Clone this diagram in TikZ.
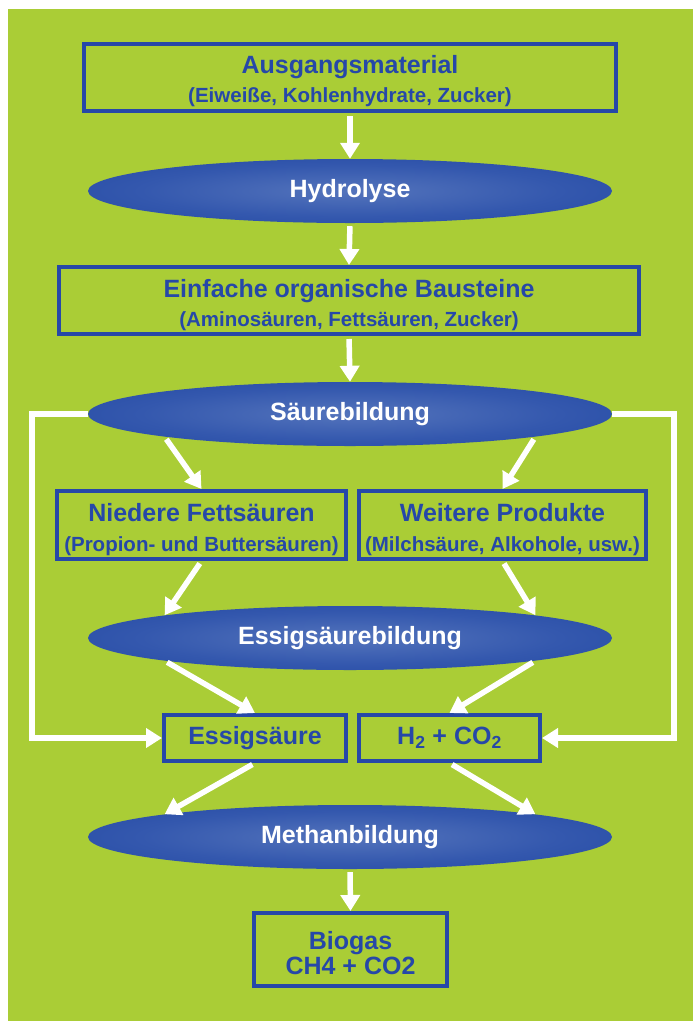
\documentclass[tikz,border=0pt]{standalone}
\usepackage{fontspec}
\setmainfont{Liberation Sans}
\usetikzlibrary{shapes.geometric,arrows.meta}
\definecolor{bggreen}{RGB}{170,205,54}
\definecolor{boxblue}{RGB}{38,72,168}
\definecolor{elllight}{RGB}{84,116,188}
\definecolor{ellmid}{RGB}{52,88,174}
\definecolor{elldark}{RGB}{28,66,158}
\pgfdeclareradialshading{ellshade}{\pgfpoint{0bp}{0bp}}{color(0bp)=(elllight); color(20bp)=(ellmid); color(44bp)=(elldark); color(50bp)=(elldark)}
\tikzset{
  mainfont/.style={font=\bfseries\fontsize{25}{28}\selectfont},
  subfont/.style={font=\bfseries\fontsize{20.5}{24}\selectfont},
  box/.style={draw=boxblue, line width=4pt, inner sep=0pt, text=boxblue, mainfont},
  boxlabel/.style={text=boxblue, mainfont, anchor=base, inner sep=0pt},
  boxsub/.style={text=boxblue, subfont, anchor=base, inner sep=0pt},
  proc/.style={ellipse, shading=ellshade, inner sep=0pt, minimum width=524pt, minimum height=64pt, text=white, mainfont},
  arr/.style={draw=white, line width=5.5pt, shorten <=3pt, -{Triangle[width=19pt,length=16pt]}},
  loopline/.style={draw=white, line width=5.5pt, -{Triangle[width=19pt,length=16pt]}}
}
\begin{document}
\begin{tikzpicture}[x=1pt,y=-1pt]
\useasboundingbox (0,0) rectangle (693,1021);
\fill[bggreen] (8,9) rectangle (693,1021);

% boxes
\node[box, minimum width=532pt, minimum height=67pt] (b1) at (350,77.5) {};
\node[boxlabel] (b1t) at ([yshift=4.5pt]b1.center) {Ausgangsmaterial};
\node[boxsub] (b1s) at ([yshift=-24.5pt]b1.center) {(Eiweiße, Kohlenhydrate, Zucker)};

\node[proc] (hyd) at (350,191) {Hydrolyse};

\node[box, minimum width=580pt, minimum height=67pt] (b2) at (349,300.5) {};
\node[boxlabel] (b2t) at ([yshift=3.5pt]b2.center) {Einfache organische Bausteine};
\node[boxsub] (b2s) at ([yshift=-25.5pt]b2.center) {(Aminosäuren, Fettsäuren, Zucker)};

\node[proc] (sae) at (350,414) {Säurebildung};

\node[box, minimum width=289pt, minimum height=68pt] (nf) at (201.5,525) {};
\node[boxlabel] (nft) at ([yshift=4pt]nf.center) {Niedere Fettsäuren};
\node[boxsub] (nfs) at ([yshift=-26pt]nf.center) {(Propion- und Buttersäuren)};

\node[box, minimum width=287pt, minimum height=68pt] (wp) at (502.5,525) {};
\node[boxlabel] (wpt) at ([yshift=4pt]wp.center) {Weitere Produkte};
\node[boxsub] (wps) at ([yshift=-26pt]wp.center) {(Milchsäure, Alkohole, usw.)};

\node[proc] (ess) at (350,638) {Essigsäurebildung};

\node[box, minimum width=182pt, minimum height=46pt] (es) at (255,738) {Essigsäure};
\node[box, minimum width=181pt, minimum height=46pt] (hc) at (449.5,738) {H\textsubscript{2} + CO\textsubscript{2}};

\node[proc] (met) at (350,837) {Methanbildung};

\node[box, minimum width=193pt, minimum height=73pt] (bg) at (350.5,949.5) {};
\node[boxlabel] (bgt) at ([yshift=0pt]bg.center) {Biogas};
\node[boxlabel] (bgs) at ([yshift=-25pt]bg.center) {CH4 + CO2};

% arrows
\draw[arr] (b1.south) -- (hyd.north);
\draw[arr] (hyd.south) -- (b2.north);
\draw[arr] (b2.south) -- (sae.north);
\draw[arr] (sae.south west) -- (nf.north);
\draw[arr] (sae.south east) -- (wp.north);
\draw[arr] (nf.south) -- (ess.north west);
\draw[arr] (wp.south) -- (ess.north east);
\draw[arr] (ess.south west) -- (es.north);
\draw[arr] (ess.south east) -- (hc.north);
\draw[arr] (es.south) -- (met.north west);
\draw[arr] (hc.south) -- (met.north east);
\draw[arr] (met.south) -- (bg.north);

% bypass loops
\draw[loopline] (sae.west) -- ([xshift=-56pt]sae.west) |- (es.west);
\draw[loopline] (sae.east) -- ([xshift=62pt]sae.east) |- (hc.east);
\end{tikzpicture}
\end{document}
